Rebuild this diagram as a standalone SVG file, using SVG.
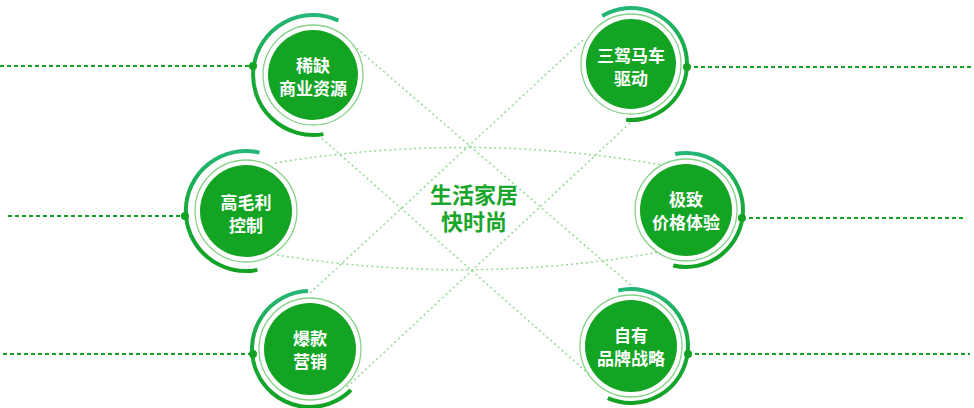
<svg xmlns="http://www.w3.org/2000/svg" width="974" height="408" viewBox="0 0 974 408">
<defs>
<linearGradient id="arcg" x1="0" y1="0" x2="0" y2="1">
<stop offset="0" stop-color="#24b675"/>
<stop offset="0.5" stop-color="#17a83a"/>
<stop offset="1" stop-color="#13a324"/>
</linearGradient>
<style>
.lead{stroke:#13a324;stroke-width:2;stroke-dasharray:4 3;fill:none}
.dot{stroke:#93d993;stroke-width:1.5;stroke-dasharray:2 3;fill:none}
.arc{stroke:url(#arcg);stroke-width:4;fill:none}
.ring{stroke:#86d28a;stroke-width:1.3;fill:none}
.core{fill:#13a423}
.pin{fill:#13a324}
.lbl{font-family:"Noto Sans CJK SC","Noto Sans",sans-serif;font-size:17px;font-weight:bold;fill:#fff;text-anchor:middle;dominant-baseline:central}
.ctr{font-family:"Noto Sans CJK SC","Noto Sans",sans-serif;font-size:22px;font-weight:bold;fill:#1aa62c;text-anchor:middle;dominant-baseline:central}
</style>
</defs>
<rect width="974" height="408" fill="#fff"/>
<g id="connectors">
<path class="dot" d="M353,45 L640,293"/>
<path class="dot" d="M583,40 L310,293"/>
<path class="dot" d="M318,135 L590,375"/>
<path class="dot" d="M630,123 L347,387"/>
<path class="dot" d="M275,163 Q470,131 662,165"/>
<path class="dot" d="M277,255 Q470,286 660,252"/>
<path class="lead" d="M0,66 H253"/>
<path class="lead" d="M687,67 H974"/>
<path class="lead" d="M8,216 H185"/>
<path class="lead" d="M742,218 H966"/>
<path class="lead" d="M3,354 H253"/>
<path class="lead" d="M688,354 H970"/>
</g>
<g id="center-title">
<text class="ctr" x="474" y="192.5">生活家居<tspan x="474" dy="27">快时尚</tspan></text>
</g>
<g id="node-xique">
<path class="arc" d="M338.4,20.6 A60,60 0 1 0 323.4,134.1"/>
<circle class="pin" cx="253" cy="66" r="4"/>
<circle class="ring" cx="313" cy="75" r="50"/>
<circle class="core" cx="313" cy="75" r="45"/>
<text class="lbl" x="313" y="64">稀缺<tspan x="313" dy="22.5">商业资源</tspan></text>
</g>
<g id="node-sanjia">
<path class="arc" d="M602.2,16 A56,56 0 1 1 626.1,119.8"/>
<circle class="pin" cx="687" cy="67" r="4"/>
<circle class="ring" cx="631" cy="64" r="50"/>
<circle class="core" cx="631" cy="64" r="45"/>
<text class="lbl" x="631" y="54.5">三驾马车<tspan x="631" dy="22.5">驱动</tspan></text>
</g>
<g id="node-gaomaoli">
<path class="arc" d="M259.5,152.6 A60,60 0 1 0 257.4,269.9"/>
<circle class="pin" cx="185" cy="216" r="4"/>
<circle class="ring" cx="246" cy="211" r="51"/>
<circle class="core" cx="246" cy="211" r="46"/>
<text class="lbl" x="246" y="201.5">高毛利<tspan x="246" dy="22.5">控制</tspan></text>
</g>
<g id="node-jizhi">
<path class="arc" d="M675.1,154 A57,57 0 1 1 673.2,265.5"/>
<circle class="pin" cx="742" cy="218" r="4"/>
<circle class="ring" cx="686" cy="210" r="51"/>
<circle class="core" cx="686" cy="210" r="46"/>
<text class="lbl" x="686" y="198">极致<tspan x="686" dy="22.5">价格体验</tspan></text>
</g>
<g id="node-baokuan">
<path class="arc" d="M308,291 A58,58 0 1 0 351,390"/>
<circle class="pin" cx="253" cy="354" r="4"/>
<circle class="ring" cx="310" cy="349" r="51"/>
<circle class="core" cx="310" cy="349" r="46"/>
<text class="lbl" x="310" y="337.5">爆款<tspan x="310" dy="22.5">营销</tspan></text>
</g>
<g id="node-ziyou">
<path class="arc" d="M618.2,290.5 A57,57 0 1 1 607.8,398.1"/>
<circle class="pin" cx="688" cy="354" r="4"/>
<circle class="ring" cx="631" cy="346" r="51"/>
<circle class="core" cx="631" cy="346" r="46"/>
<text class="lbl" x="631" y="334">自有<tspan x="631" dy="22.5">品牌战略</tspan></text>
</g>
</svg>
